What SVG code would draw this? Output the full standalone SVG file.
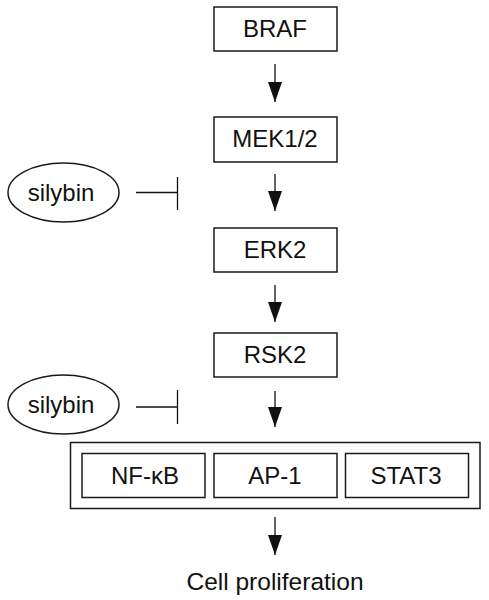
<svg xmlns="http://www.w3.org/2000/svg" width="489" height="600" viewBox="0 0 489 600">
<defs>
<style>
.box{fill:#fff;stroke:#1a1a1a;stroke-width:1.5}
.lbl{font-family:"Liberation Sans",Arial,sans-serif;font-size:24px;fill:#111;text-anchor:middle}
.edge{stroke:#111;stroke-width:1.3;fill:none}
</style>
<marker id="ah" markerUnits="userSpaceOnUse" markerWidth="21" markerHeight="14" refX="20" refY="7" orient="auto" viewBox="0 0 21 14">
<path d="M0,0 L20,7 L0,14 Z" fill="#111"/>
</marker>
</defs>
<rect width="489" height="600" fill="#fff"/>
<g id="braf"><rect class="box" x="214" y="7" width="123" height="44"/><text class="lbl" x="275" y="37">BRAF</text></g>
<g id="mek"><rect class="box" x="214" y="117" width="123" height="45"/><text class="lbl" x="275" y="147">MEK1/2</text></g>
<g id="erk2"><rect class="box" x="214" y="228" width="123" height="44"/><text class="lbl" x="275" y="258">ERK2</text></g>
<g id="rsk2"><rect class="box" x="214" y="333" width="123" height="44"/><text class="lbl" x="275" y="363">RSK2</text></g>
<g id="silybin1"><ellipse class="box" cx="63.5" cy="192.5" rx="55.5" ry="29.5"/><text class="lbl" x="61" y="201">silybin</text></g>
<g id="silybin2"><ellipse class="box" cx="63.5" cy="404.5" rx="55.5" ry="29.5"/><text class="lbl" x="61" y="413">silybin</text></g>
<g id="tf"><rect class="box" x="70.5" y="442.5" width="409.5" height="66"/>
<g id="nfkb"><rect class="box" x="82" y="453.5" width="123" height="44"/><text class="lbl" x="145" y="484">NF-κB</text></g>
<g id="ap1"><rect class="box" x="214" y="453.5" width="123" height="44"/><text class="lbl" x="275" y="484">AP-1</text></g>
<g id="stat3"><rect class="box" x="345.5" y="453.5" width="123" height="44"/><text class="lbl" x="406" y="484">STAT3</text></g>
</g>
<g id="cellprolif"><text class="lbl" x="275" y="590" style="font-size:24.5px">Cell proliferation</text></g>
<g id="connectors">
<line class="edge" x1="275" y1="64" x2="275" y2="102" marker-end="url(#ah)"/>
<line class="edge" x1="275" y1="174" x2="275" y2="211" marker-end="url(#ah)"/>
<line class="edge" x1="275" y1="285" x2="275" y2="322" marker-end="url(#ah)"/>
<line class="edge" x1="275" y1="391" x2="275" y2="427" marker-end="url(#ah)"/>
<line class="edge" x1="275" y1="517" x2="275" y2="555" marker-end="url(#ah)"/>
<path class="edge" d="M136,192.5 H177.5 M177.5,177 V210"/>
<path class="edge" d="M136,407 H177.5 M177.5,390 V424"/>
</g>
</svg>
